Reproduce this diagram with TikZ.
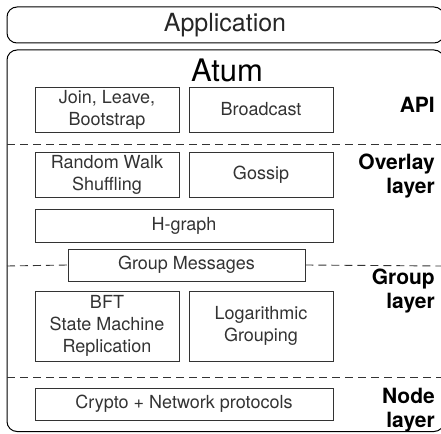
\documentclass[tikz,border=0pt]{standalone}
\usepackage{fontspec}
\setmainfont{TeX Gyre Heros}
\tikzset{
    comp/.style={draw=black!80, line width=0.9pt, inner sep=0pt, align=center,
        font=\fontsize{18}{22}\selectfont, text=black!80},
    lbl/.style={anchor=east, align=right, inner sep=0pt,
        font=\fontsize{21}{24}\selectfont\bfseries},
    sep/.style={draw=black!80, line width=0.9pt, dash pattern=on 8pt off 5pt}
}
\begin{document}
\begin{tikzpicture}[x=1pt, y=-1pt]
    \useasboundingbox (0,0) rectangle (441,433);
    % outer frames
    \draw[line width=1pt, rounded corners=10pt] (7,7) rectangle (444,43);
    \draw[line width=1pt, rounded corners=10pt] (7,50) rectangle (444,431.5);
    \node[font=\fontsize{25}{28}\selectfont, text=black!85] (app) at (225,25) {Application};
    \node[font=\fontsize{31}{34}\selectfont] (atum) at (227,70) {Atum};

    % API
    \node[comp, minimum width=144pt, minimum height=45pt] (join) at (107,109.5) {Join, Leave,\\Bootstrap};
    \node[comp, minimum width=144pt, minimum height=45pt] (bcast) at (261,109.5) {Broadcast};
    \node[lbl] (api) at (435,105) {API};
    \draw[sep] (7,144) -- (441,144);

    % overlay layer
    \node[comp, minimum width=144pt, minimum height=45pt] (walk) at (107,174.5) {Random Walk\\Shuffling};
    \node[comp, minimum width=144pt, minimum height=45pt] (gossip) at (261,174.5) {Gossip};
    \node[comp, minimum width=298pt, minimum height=33pt] (hgraph) at (184,225.5) {H-graph};
    \node[lbl] (overlay) at (435,176) {Overlay\\layer};

    % group layer
    \node[comp, minimum width=237pt, minimum height=32pt] (gmsg) at (186.5,265) {Group Messages};
    \draw[sep] (7,266) -- (gmsg.west);
    \draw[sep] (gmsg.east) -- (441,266);
    \node[comp, minimum width=144pt, minimum height=70pt] (bft) at (107,326) {BFT\\State Machine\\Replication};
    \node[comp, minimum width=144pt, minimum height=70pt] (loggrp) at (261,326) {Logarithmic\\Grouping};
    \node[lbl] (group) at (435,291) {Group\\layer};
    \draw[sep] (7,377) -- (441,377);

    % node layer
    \node[comp, minimum width=298pt, minimum height=32pt] (crypto) at (184,404) {Crypto + Network protocols};
    \node[lbl] (nodelayer) at (435,410) {Node\\layer};
\end{tikzpicture}
\end{document}
